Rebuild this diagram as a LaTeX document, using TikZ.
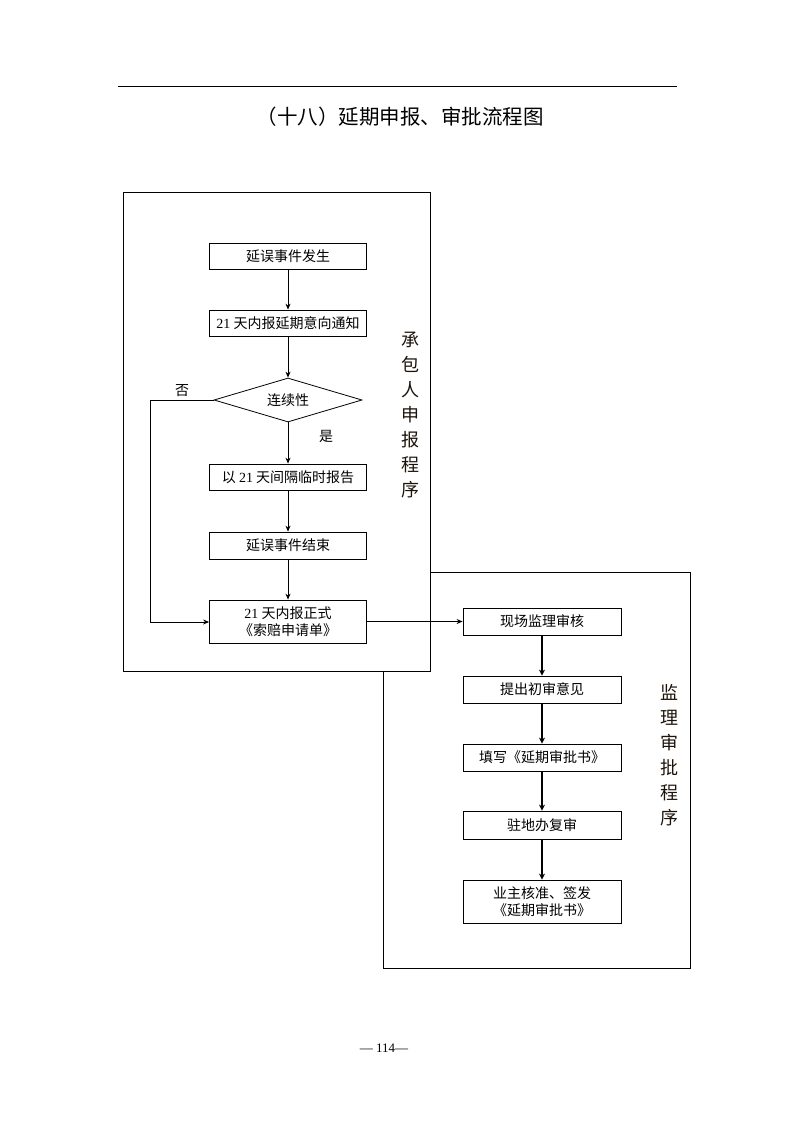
\documentclass[tikz,border=0pt]{standalone}
\usepackage{fontspec}
\setmainfont{Liberation Serif}
\newfontfamily\cjk{Noto Sans CJK SC}
\usetikzlibrary{arrows.meta,shapes.geometric}
\tikzset{
  box/.style={draw,thick,fill=white,minimum width=157pt,font=\cjk\fontsize{14}{16.5}\selectfont,inner sep=0pt,align=center},
  rbox/.style={box,minimum width=158pt},
  thinarrow/.style={-{Stealth[length=6pt,width=5pt]},line width=0.8pt},
  thickarrow/.style={-{Stealth[length=6pt,width=6pt]},line width=2.2pt},
  frame/.style={draw,line width=0.8pt},
  side/.style={font=\cjk\fontsize{18}{25}\selectfont,align=center,text=black!85!brown},
  lbl/.style={font=\cjk\fontsize{14}{16}\selectfont,inner sep=0pt}
}
\begin{document}
\begin{tikzpicture}[x=1pt,y=-1pt]
\useasboundingbox (0,0) rectangle (794,1123);
% top rule and title
\draw[line width=0.8pt] (118,86) -- (677,86);
\node[font=\cjk\fontsize{20.5}{22}\selectfont,inner sep=0pt] (title) at (400,117) {（十八）延期申报、审批流程图};
% frames
\draw[frame] (383,572) rectangle (690,968);
\draw[frame,fill=white] (123,192) rectangle (430,671);
% left boxes
\node[box,minimum height=26pt] (a1) at (288,256) {延误事件发生};
\node[box,minimum height=26pt] (a2) at (288,323) {{\rmfamily 21} 天内报延期意向通知};
\node[diamond,draw,thick,fill=white,aspect=3.4,minimum width=148pt,minimum height=44pt,inner sep=0pt,font=\cjk\fontsize{14}{16}\selectfont] (d) at (288,400) {连续性};
\node[box,minimum height=26pt] (a3) at (288,477) {以 {\rmfamily 21} 天间隔临时报告};
\node[box,minimum height=27pt] (a4) at (288,545.5) {延误事件结束};
\node[box,minimum height=43pt] (a5) at (288,621.5) {{\rmfamily 21} 天内报正式\\《索赔申请单》};
% right boxes
\node[rbox,minimum height=27pt] (b1) at (542,621.5) {现场监理审核};
\node[rbox,minimum height=27pt] (b2) at (542,689.5) {提出初审意见};
\node[rbox,minimum height=27pt] (b3) at (542,757.5) {填写《延期审批书》};
\node[rbox,minimum height=28pt] (b4) at (542,825) {驻地办复审};
\node[rbox,minimum height=43pt] (b5) at (542,901.5) {业主核准、签发\\《延期审批书》};
% side labels
\node[side] (s1) at (410,415) {承\\包\\人\\申\\报\\程\\序};
\node[side] (s2) at (669,755) {监\\理\\审\\批\\程\\序};
% left arrows
\draw[thinarrow] (a1) -- (a2);
\draw[thinarrow] (a2) -- (d);
\draw[thinarrow] (d) -- (a3);
\draw[thinarrow] (a3) -- (a4);
\draw[thinarrow] (a4) -- (a5);
\coordinate (c1) at (150,400);
\coordinate (c2) at (150,622);
\draw[thinarrow] (d.west) -- (c1) -- (c2) -- (a5.west|-c2);
\node[lbl] (no) at (182,391) {否};
\node[lbl] (yes) at (326,436) {是};
% cross arrow
\draw[thinarrow] (a5.east) -- (b1.west);
% right arrows
\draw[thickarrow] (b1) -- (b2);
\draw[thickarrow] (b2) -- (b3);
\draw[thickarrow] (b3) -- (b4);
\draw[thickarrow] (b4) -- (b5);
% page number
\node[font=\fontsize{13}{15}\selectfont,inner sep=0pt] (pg) at (384,1048) {— 114—};
\end{tikzpicture}
\end{document}
